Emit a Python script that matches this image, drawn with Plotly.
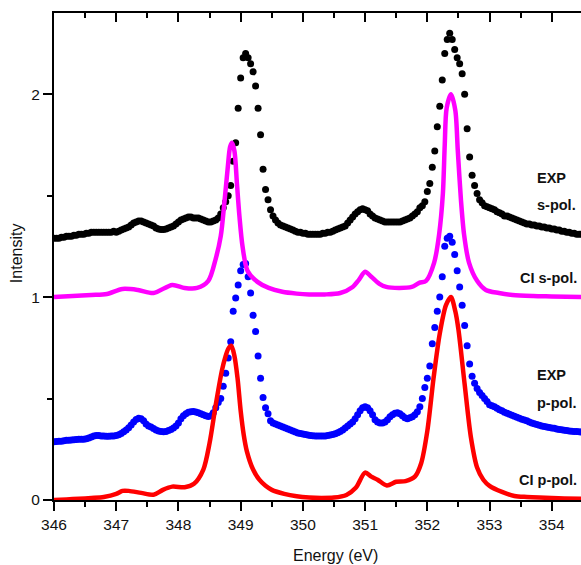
import numpy as np
import plotly.graph_objects as go

# ---------------- data ----------------
# experimental spectra sampled every 0.04 eV from 346.00 to 354.48
exp_energy = np.round(346.0 + 0.04 * np.arange(213), 2)

exp_s = [
    1.29, 1.29, 1.29, 1.295, 1.295, 1.30, 1.30, 1.30, 1.305, 1.305, 1.31, 1.31, 1.31, 1.315, 1.315, 1.32, 1.32, 1.32, 1.32, 1.32, 1.32, 1.32, 1.32, 1.32, 1.325,
    1.32, 1.325, 1.33, 1.335, 1.34, 1.345, 1.355, 1.365, 1.37, 1.375, 1.375, 1.37, 1.365, 1.36, 1.355, 1.35, 1.34, 1.335, 1.333, 1.333, 1.335, 1.34, 1.345, 1.35, 1.36,
    1.37, 1.38, 1.385, 1.39, 1.395, 1.395, 1.39, 1.39, 1.39, 1.385, 1.38, 1.375, 1.37, 1.37, 1.375, 1.38, 1.39, 1.41, 1.44, 1.47, 1.50, 1.55, 1.67, 1.76, 1.93,
    2.08, 2.18, 2.20, 2.18, 2.15, 2.11, 2.04, 1.93, 1.80, 1.63, 1.53, 1.48, 1.43, 1.40, 1.38, 1.365, 1.355, 1.35, 1.345, 1.34, 1.335, 1.33, 1.325, 1.32, 1.32,
    1.315, 1.315, 1.31, 1.31, 1.31, 1.31, 1.31, 1.31, 1.315, 1.315, 1.32, 1.32, 1.325, 1.33, 1.335, 1.34, 1.345, 1.35, 1.365, 1.38, 1.395, 1.41, 1.42, 1.43, 1.435,
    1.43, 1.425, 1.41, 1.40, 1.39, 1.385, 1.38, 1.375, 1.37, 1.37, 1.37, 1.37, 1.37, 1.37, 1.37, 1.375, 1.38, 1.385, 1.39, 1.40, 1.41, 1.42, 1.44, 1.45, 1.47,
    1.52, 1.56, 1.64, 1.72, 1.84, 1.94, 2.07, 2.20, 2.27, 2.30, 2.27, 2.22, 2.18, 2.15, 2.10, 2.00, 1.83, 1.69, 1.60, 1.55, 1.51, 1.48, 1.465, 1.45, 1.445,
    1.44, 1.435, 1.43, 1.42, 1.415, 1.41, 1.40, 1.40, 1.395, 1.39, 1.385, 1.38, 1.375, 1.37, 1.365, 1.36, 1.36, 1.355, 1.355, 1.35, 1.35, 1.345, 1.345, 1.34, 1.34,
    1.335, 1.335, 1.33, 1.33, 1.325, 1.325, 1.32, 1.32, 1.315, 1.315, 1.31, 1.31, 1.31,
]

exp_p = [
    0.287, 0.288, 0.29, 0.29, 0.292, 0.294, 0.295, 0.296, 0.297, 0.298, 0.299, 0.30, 0.30, 0.302, 0.305, 0.31, 0.315, 0.318, 0.318, 0.316, 0.315, 0.314, 0.314, 0.315, 0.316,
    0.318, 0.322, 0.328, 0.336, 0.345, 0.356, 0.37, 0.385, 0.397, 0.403, 0.40, 0.39, 0.375, 0.365, 0.36, 0.352, 0.345, 0.34, 0.337, 0.336, 0.338, 0.342, 0.348, 0.355, 0.365,
    0.38, 0.40, 0.415, 0.425, 0.432, 0.435, 0.436, 0.434, 0.43, 0.425, 0.42, 0.415, 0.412, 0.415, 0.43, 0.455, 0.48, 0.50, 0.56, 0.625, 0.70, 0.78, 0.93, 0.995, 1.06,
    1.13, 1.16, 1.165, 1.10, 1.02, 0.91, 0.83, 0.71, 0.60, 0.505, 0.455, 0.425, 0.39, 0.38, 0.375, 0.37, 0.365, 0.36, 0.355, 0.35, 0.345, 0.34, 0.335, 0.33, 0.328,
    0.325, 0.323, 0.32, 0.318, 0.317, 0.316, 0.315, 0.315, 0.315, 0.316, 0.318, 0.32, 0.323, 0.327, 0.332, 0.337, 0.345, 0.355, 0.365, 0.375, 0.385, 0.40, 0.42, 0.44, 0.455,
    0.46, 0.455, 0.44, 0.42, 0.395, 0.385, 0.38, 0.38, 0.385, 0.395, 0.41, 0.42, 0.428, 0.43, 0.425, 0.415, 0.405, 0.40, 0.405, 0.41, 0.42, 0.435, 0.46, 0.50, 0.555,
    0.60, 0.66, 0.77, 0.85, 0.93, 1.00, 1.10, 1.25, 1.29, 1.30, 1.27, 1.21, 1.13, 1.05, 0.96, 0.86, 0.76, 0.67, 0.61, 0.575, 0.55, 0.53, 0.515, 0.50, 0.485,
    0.47, 0.465, 0.46, 0.452, 0.445, 0.44, 0.433, 0.428, 0.423, 0.418, 0.413, 0.408, 0.403, 0.398, 0.394, 0.39, 0.385, 0.38, 0.376, 0.372, 0.368, 0.365, 0.362, 0.36, 0.357,
    0.355, 0.353, 0.35, 0.348, 0.346, 0.344, 0.342, 0.34, 0.339, 0.338, 0.337, 0.336, 0.335,
]

# CI calculations
ci_s_energy = [346.0, 346.3, 346.6, 346.85, 347.1, 347.35, 347.6, 347.9, 348.1, 348.3, 348.48, 348.6, 348.68,
               348.74, 348.79, 348.83, 348.86, 348.9, 348.94, 348.98, 349.03, 349.11, 349.27, 349.45, 349.67,
               349.9, 350.1, 350.35, 350.6, 350.8, 350.9, 351.0, 351.1, 351.23, 351.34, 351.55, 351.75, 351.87,
               351.98, 352.11, 352.19, 352.25, 352.28, 352.31, 352.38, 352.45, 352.49, 352.54, 352.59, 352.67,
               352.8, 352.94, 353.15, 353.37, 353.7, 354.0, 354.5]
ci_s = [1.0, 1.005, 1.01, 1.015, 1.04, 1.035, 1.02, 1.06, 1.045, 1.045, 1.08, 1.19, 1.30,
        1.47, 1.63, 1.74, 1.76, 1.72, 1.56, 1.40, 1.25, 1.13, 1.075, 1.045, 1.026,
        1.017, 1.013, 1.013, 1.02, 1.05, 1.085, 1.125, 1.10, 1.065, 1.05, 1.045, 1.05, 1.07,
        1.08, 1.17, 1.31, 1.51, 1.75, 1.93, 2.0, 1.92, 1.72, 1.48, 1.31, 1.17,
        1.08, 1.035, 1.02, 1.01, 1.005, 1.003, 1.0]

ci_p_energy = [346.0, 346.2, 346.4, 346.6, 346.8, 347.0, 347.1, 347.2, 347.4, 347.6, 347.75, 347.9, 348.1,
               348.25, 348.4, 348.5, 348.6, 348.7, 348.75, 348.8, 348.85, 348.9, 348.95, 349.0, 349.05,
               349.1, 349.2, 349.3, 349.4, 349.5, 349.7, 349.9, 350.1, 350.3, 350.5, 350.7, 350.85, 351.0,
               351.1, 351.2, 351.35, 351.5, 351.65, 351.8, 351.9, 352.0, 352.1, 352.2, 352.3, 352.38, 352.45,
               352.5, 352.6, 352.7, 352.8, 352.9, 353.0, 353.2, 353.4, 353.6, 353.8, 354.0, 354.2, 354.5]
ci_p = [0.0, 0.003, 0.006, 0.01, 0.015, 0.03, 0.045, 0.045, 0.035, 0.026, 0.05, 0.066, 0.063,
        0.08, 0.15, 0.28, 0.47, 0.64, 0.70, 0.745, 0.76, 0.71, 0.60, 0.44, 0.32,
        0.24, 0.15, 0.10, 0.07, 0.05, 0.03, 0.018, 0.012, 0.01, 0.012, 0.025, 0.06, 0.135,
        0.115, 0.10, 0.072, 0.09, 0.093, 0.115, 0.18, 0.34, 0.60, 0.82, 0.96, 1.0, 0.93,
        0.84, 0.57, 0.31, 0.16, 0.10, 0.07, 0.04, 0.02, 0.015, 0.012, 0.01, 0.008, 0.006]

x_ticks = [346, 347, 348, 349, 350, 351, 352, 353, 354]
y_ticks = [0, 1, 2]
x_range = [346.0, 354.47]
y_range = [0.0, 2.4]

labels = [
    ("EXP", 0.9127, 0.661),
    ("s-pol.", 0.9127, 0.6057),
    ("CI s-pol.", 0.8805, 0.4559),
    ("EXP", 0.9127, 0.2567),
    ("p-pol.", 0.9127, 0.1992),
    ("CI p-pol.", 0.8786, 0.0411),
]

FONT = "Liberation Sans, Arial, Helvetica, sans-serif"

# ---------------- figure ----------------
fig = go.Figure()

fig.add_trace(go.Scatter(x=exp_energy, y=exp_s, mode="markers",
                         marker=dict(color="#000000", size=7, line=dict(width=0)),
                         hoverinfo="skip", showlegend=False))
fig.add_trace(go.Scatter(x=exp_energy, y=exp_p, mode="markers",
                         marker=dict(color="#0000ff", size=7, line=dict(width=0)),
                         hoverinfo="skip", showlegend=False))
fig.add_trace(go.Scatter(x=ci_s_energy, y=ci_s, mode="lines",
                         line=dict(color="#ff00ff", width=4.5, shape="spline", smoothing=0.8),
                         hoverinfo="skip", showlegend=False))
fig.add_trace(go.Scatter(x=ci_p_energy, y=ci_p, mode="lines",
                         line=dict(color="#ff0000", width=4.5, shape="spline", smoothing=0.8),
                         hoverinfo="skip", showlegend=False))
# invisible trace to activate the top mirror axis
fig.add_trace(go.Scatter(x=ci_p_energy[:1], y=ci_p[:1], xaxis="x2", mode="markers",
                         marker=dict(opacity=0), hoverinfo="skip", showlegend=False))

for text, px, py in labels:
    fig.add_annotation(text=f"<b>{text}</b>", x=px, y=py, xref="paper", yref="paper",
                       xanchor="left", yanchor="middle", showarrow=False,
                       font=dict(family=FONT, size=14.5, color="#111111"))

fig.add_annotation(text="Energy (eV)", x=0.535, y=-0.113, xref="paper", yref="paper",
                   xanchor="center", yanchor="middle", showarrow=False,
                   font=dict(family=FONT, size=16, color="#111111"))
fig.add_annotation(text="Intensity", x=-0.072, y=0.507, xref="paper", yref="paper",
                   xanchor="center", yanchor="middle", showarrow=False, textangle=-90,
                   font=dict(family=FONT, size=16, color="#111111"))

axis_common = dict(showgrid=False, zeroline=False, showline=True, linecolor="black",
                   linewidth=2, tickcolor="black", tickwidth=2, automargin=False)

fig.update_layout(
    width=581, height=565,
    margin=dict(l=54, r=0, t=13, b=65),
    paper_bgcolor="white", plot_bgcolor="white",
    font=dict(family=FONT, size=15, color="#111111"),
    xaxis=dict(range=x_range, tickvals=x_ticks, ticktext=[str(v) for v in x_ticks],
               ticks="outside", ticklen=9,
               minor=dict(dtick=0.5, tick0=346, ticks="outside", ticklen=5, tickwidth=2, tickcolor="black"),
               tickfont=dict(family=FONT, size=15.5, color="#111111"), **axis_common),
    xaxis2=dict(range=x_range, overlaying="x", side="top", anchor="y",
                tickvals=x_ticks, ticks="inside", ticklen=9, showticklabels=False,
                minor=dict(dtick=0.5, tick0=346, ticks="inside", ticklen=5, tickwidth=2, tickcolor="black"),
                **axis_common),
    yaxis=dict(range=y_range, tickvals=y_ticks, ticktext=[str(v) for v in y_ticks],
               ticks="outside", ticklen=9,
               minor=dict(dtick=0.5, tick0=0, ticks="outside", ticklen=5, tickwidth=2, tickcolor="black"),
               tickfont=dict(family=FONT, size=15.5, color="#111111"), **axis_common),
)

fig.write_html("out.html", config={"displayModeBar": False},
               post_script="document.body.style.margin='0';document.body.style.overflow='hidden';")
